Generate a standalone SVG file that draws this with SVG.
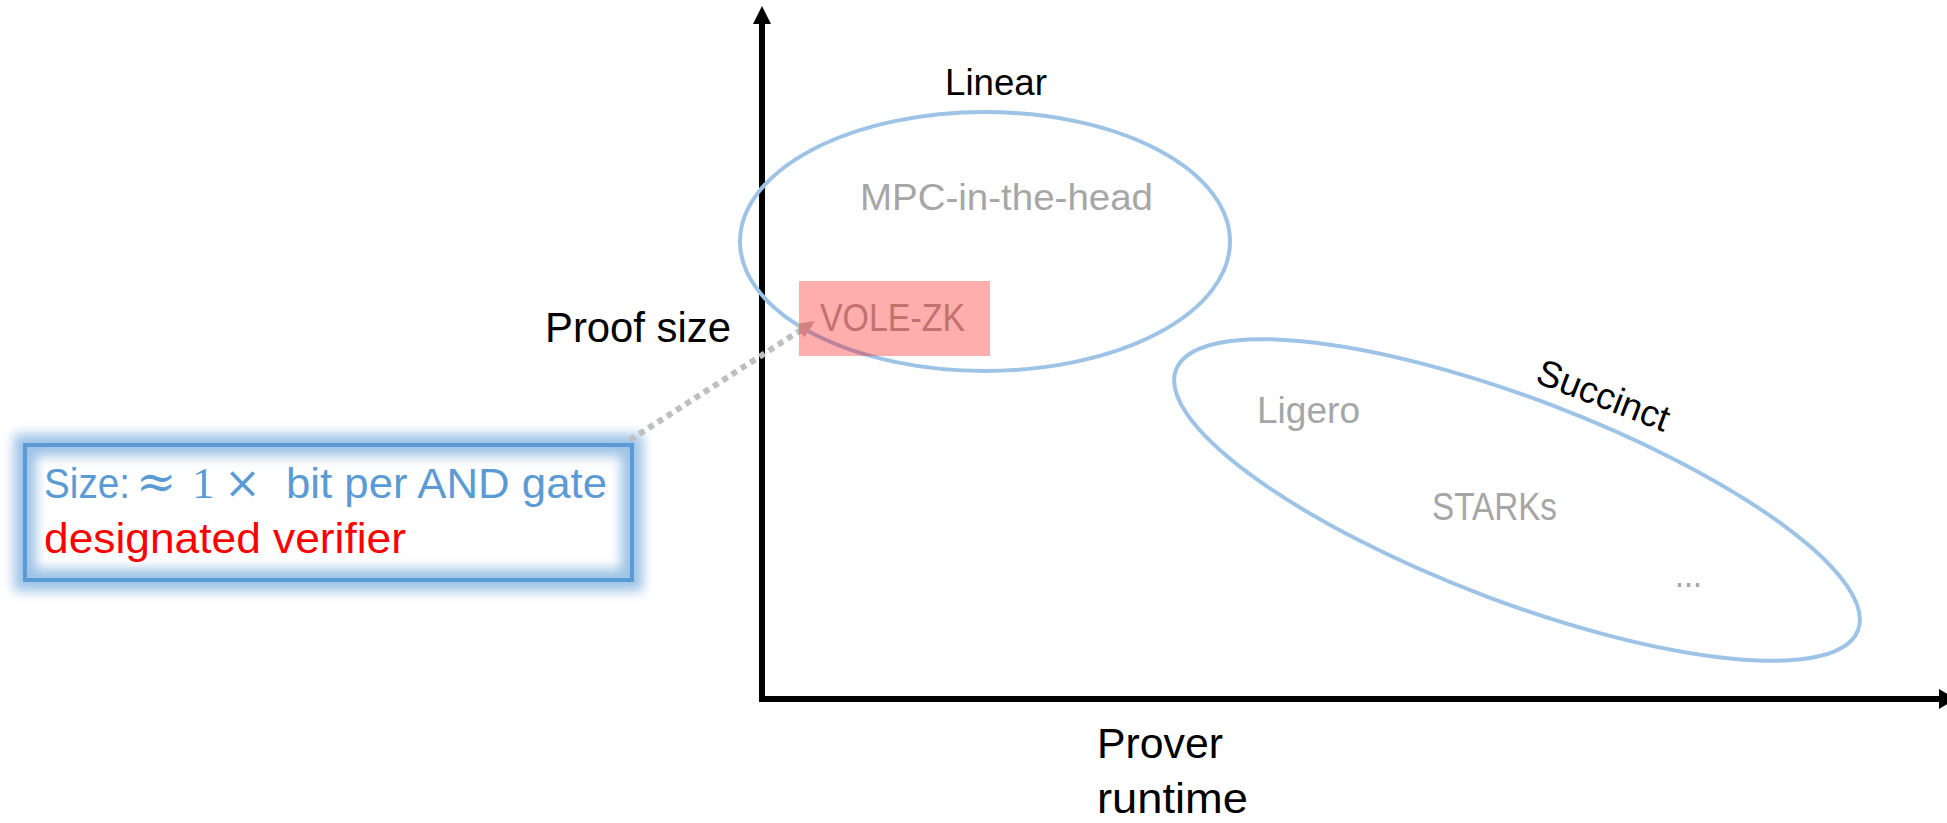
<svg xmlns="http://www.w3.org/2000/svg" width="1947" height="823" viewBox="0 0 1947 823">
  <defs>
    <style>
      .lbl { font-family: "Liberation Sans", Arial, sans-serif; }
      .black { fill: #000000; }
      .grey { fill: #A6A6A6; }
      .region { fill: none; stroke: #9DC3E6; stroke-width: 4; }
      .axis { stroke: #000000; stroke-width: 6; fill: none; }
      .dotted { stroke: #BFBFBF; stroke-width: 6; stroke-dasharray: 6 5; fill: none; }
      .math { font-family: "DejaVu Serif", "Liberation Serif", serif; }
      .digit { font-family: "Liberation Serif", "DejaVu Serif", serif; }
    </style>
    <filter id="glow" x="-10%" y="-30%" width="120%" height="160%">
      <feGaussianBlur stdDeviation="6"/>
    </filter>
    <marker id="greyHead" markerUnits="userSpaceOnUse" markerWidth="20" markerHeight="18" refX="18" refY="9" orient="auto">
      <path d="M0,1 L18,9 L0,17 Z" fill="#BFBFBF"/>
    </marker>
  </defs>

  <rect width="1947" height="823" fill="#ffffff"/>

  <!-- axes -->
  <g id="axes">
    <line class="axis" x1="762" y1="702" x2="762" y2="22"/>
    <path d="M762,6 L771,24 L753,24 Z" fill="#000"/>
    <line class="axis" x1="759" y1="699" x2="1940" y2="699"/>
    <path d="M1956,699 L1939,689 L1939,709 Z" fill="#000"/>
  </g>

  <g id="axis-labels">
    <text class="lbl black" x="545" y="342" font-size="42" textLength="186" lengthAdjust="spacingAndGlyphs">Proof size</text>
    <text class="lbl black" font-size="43">
      <tspan x="1097" y="758" textLength="126" lengthAdjust="spacingAndGlyphs">Prover</tspan>
      <tspan x="1097" y="813" textLength="151" lengthAdjust="spacingAndGlyphs">runtime</tspan>
    </text>
  </g>

  <!-- linear proof-size region -->
  <g id="linear">
    <ellipse class="region" cx="985" cy="241.5" rx="245" ry="129.5"/>
    <text class="lbl black" x="945" y="95" font-size="37" textLength="102" lengthAdjust="spacingAndGlyphs">Linear</text>
    <text class="lbl grey" x="860" y="210" font-size="36" textLength="293" lengthAdjust="spacingAndGlyphs">MPC-in-the-head</text>
  </g>

  <!-- succinct region -->
  <g id="succinct">
    <ellipse class="region" cx="1517" cy="500" rx="365" ry="101" transform="rotate(20.9 1517 500)"/>
    <text class="lbl black" x="1599" y="407" font-size="37" text-anchor="middle" textLength="139" lengthAdjust="spacingAndGlyphs" transform="rotate(21 1599 407)">Succinct</text>
    <text class="lbl grey" x="1257" y="423" font-size="36" textLength="103" lengthAdjust="spacingAndGlyphs">Ligero</text>
    <text class="lbl grey" x="1432" y="520" font-size="38" textLength="125" lengthAdjust="spacingAndGlyphs">STARKs</text>
    <text class="lbl grey" x="1675" y="587" font-size="36" textLength="27" lengthAdjust="spacingAndGlyphs">...</text>
  </g>

  <!-- callout box -->
  <g id="callout">
    <rect x="25" y="445" width="607" height="135" fill="none" stroke="#9DC3E6" stroke-width="22" filter="url(#glow)"/>
    <rect x="25" y="445" width="607" height="135" fill="none" stroke="#5B9BD5" stroke-width="4"/>
    <text class="lbl" font-size="43" fill="#5B9BD5" y="498">
      <tspan x="44" textLength="86" lengthAdjust="spacingAndGlyphs">Size:</tspan>
      <tspan class="math" x="136" font-size="48">≈</tspan>
      <tspan class="digit" x="192" font-size="45">1</tspan>
      <tspan class="math" x="224" font-size="44">×</tspan>
      <tspan x="286" textLength="321" lengthAdjust="spacingAndGlyphs">bit per AND gate</tspan>
    </text>
    <text class="lbl" x="44" y="553" font-size="43" fill="#FF0000" textLength="362" lengthAdjust="spacingAndGlyphs">designated verifier</text>
  </g>

  <!-- connector from callout to VOLE-ZK -->
  <g id="connectors">
    <line class="dotted" x1="630" y1="440" x2="815" y2="321" marker-end="url(#greyHead)"/>
  </g>

  <!-- VOLE-ZK highlight, translucent over everything beneath -->
  <g id="vole-zk">
    <text class="lbl grey" x="820" y="331" font-size="38" textLength="145" lengthAdjust="spacingAndGlyphs">VOLE-ZK</text>
    <rect x="799" y="281" width="191" height="75" fill="#FF0000" fill-opacity="0.32"/>
  </g>
</svg>
